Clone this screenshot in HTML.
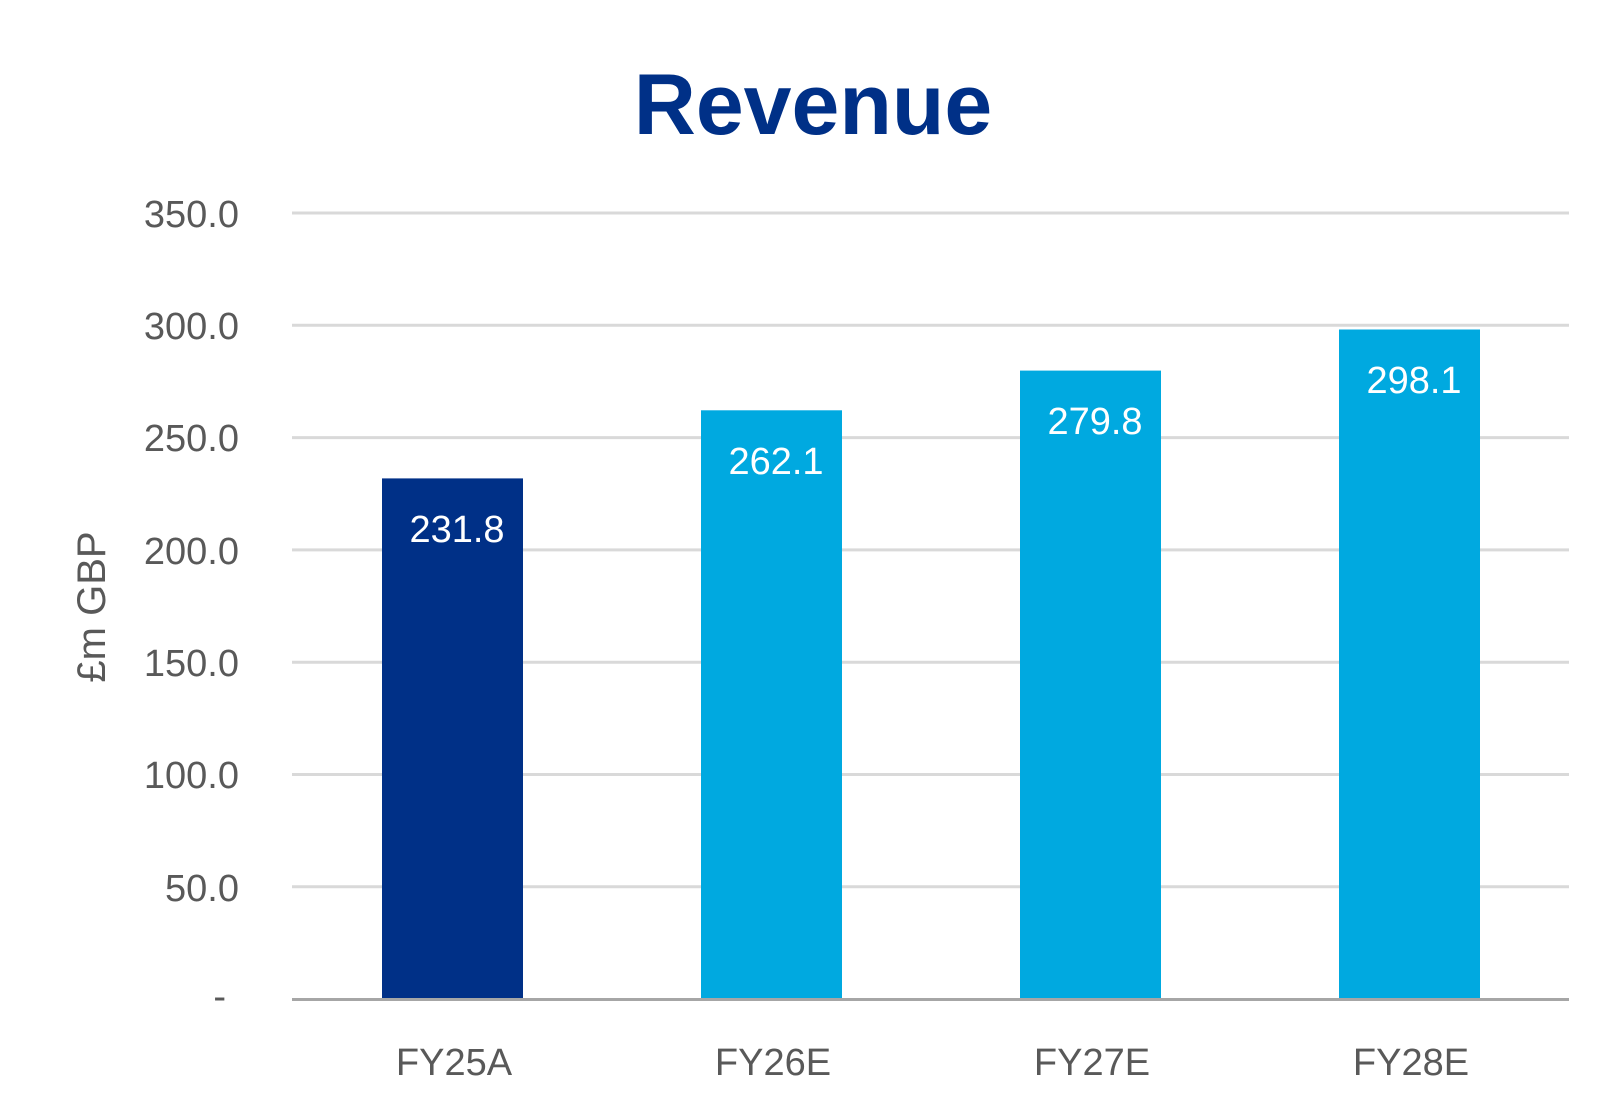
<!DOCTYPE html>
<html><head><meta charset="utf-8"><style>
html,body{margin:0;padding:0;background:#fff;}
</style></head><body>
<svg width="1620" height="1114" xmlns="http://www.w3.org/2000/svg" font-family="'Liberation Sans', 'DejaVu Sans', sans-serif">
<rect width="1620" height="1114" fill="#fff"/>
<text x="813" y="134" text-anchor="middle" font-size="86" font-weight="bold" fill="#003087">Revenue</text>
<g stroke="#d9d9d9" stroke-width="3">
<line x1="292" x2="1569" y1="213" y2="213"/>
<line x1="292" x2="1569" y1="325.3" y2="325.3"/>
<line x1="292" x2="1569" y1="437.6" y2="437.6"/>
<line x1="292" x2="1569" y1="549.9" y2="549.9"/>
<line x1="292" x2="1569" y1="662.2" y2="662.2"/>
<line x1="292" x2="1569" y1="774.5" y2="774.5"/>
<line x1="292" x2="1569" y1="886.8" y2="886.8"/>
</g>
<g font-size="38" fill="#595959" text-anchor="end">
<text x="239" y="227">350.0</text>
<text x="239" y="339">300.0</text>
<text x="239" y="451">250.0</text>
<text x="239" y="564">200.0</text>
<text x="239" y="676">150.0</text>
<text x="239" y="788">100.0</text>
<text x="239" y="901">50.0</text>
<text x="226" y="1009">-</text>
</g>
<text transform="translate(105,607) rotate(-90)" text-anchor="middle" font-size="40" fill="#595959">£m GBP</text>
<rect x="382" y="478.4" width="141" height="520.6" fill="#003087"/>
<rect x="701" y="410.3" width="141" height="588.7" fill="#00a9e0"/>
<rect x="1020" y="370.6" width="141" height="628.4" fill="#00a9e0"/>
<rect x="1339" y="329.5" width="141" height="669.5" fill="#00a9e0"/>
<line x1="292" x2="1569" y1="999.5" y2="999.5" stroke="#a6a6a6" stroke-width="3"/>
<g font-size="38" fill="#fff" text-anchor="middle">
<text x="457" y="542">231.8</text>
<text x="776" y="474">262.1</text>
<text x="1095" y="434">279.8</text>
<text x="1414" y="393">298.1</text>
</g>
<g font-size="38" fill="#595959" text-anchor="middle">
<text x="454" y="1075">FY25A</text>
<text x="773" y="1075">FY26E</text>
<text x="1092" y="1075">FY27E</text>
<text x="1411" y="1075">FY28E</text>
</g>
</svg>
</body></html>
